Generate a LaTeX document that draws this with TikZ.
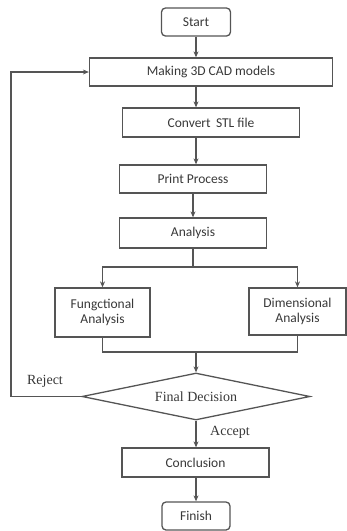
\documentclass[tikz,border=0pt]{standalone}
\usepackage{fontspec}
\setmainfont{Carlito}
\newfontfamily\serifx{Liberation Serif}
\usetikzlibrary{shapes.geometric,arrows.meta}
\definecolor{ln}{HTML}{555555}
\definecolor{tx}{HTML}{383838}
\begin{document}
\begin{tikzpicture}[x=1pt,y=-1pt,
  box/.style={draw=ln,line width=1.3pt,rectangle,inner sep=0pt,text=tx,font=\fontsize{13.5}{15}\selectfont,align=center},
  rbox/.style={box,rounded corners=4pt},
  arr/.style={draw=ln,line width=1.3pt,-{Stealth[length=6pt,width=5pt]}},
  ln/.style={draw=ln,line width=1.3pt},
  lbl/.style={text=tx,font=\serifx\fontsize{14}{16}\selectfont,inner sep=0pt}]
\useasboundingbox (0,0) rectangle (347,531);
\node[rbox,minimum width=69pt,minimum height=28pt] (start) at (196,22) {Start};
\node[box,minimum width=243pt,minimum height=28pt] (cad) at (211,72) {Making 3D CAD models};
\node[box,minimum width=177pt,minimum height=29pt] (stl) at (211,122.5) {Convert\, STL file};
\node[box,minimum width=147pt,minimum height=28pt] (print) at (193,179) {Print Process};
\node[box,minimum width=147pt,minimum height=30pt] (ana) at (193,233) {Analysis};
\node[box,minimum width=95pt,minimum height=49pt] (fun) at (102.5,312.5) {Fungctional\\Analysis};
\node[box,minimum width=97pt,minimum height=47pt] (dim) at (297.5,311.5) {Dimensional\\Analysis};
\node[diamond,aspect=4.85,draw=ln,line width=1.3pt,minimum width=228pt,minimum height=47pt,inner sep=0pt,text=tx,font=\serifx\fontsize{14}{16}\selectfont] (dec) at (196,396.5) {Final Decision};
\node[box,minimum width=147pt,minimum height=29pt] (conc) at (195.5,462.5) {Conclusion};
\node[rbox,minimum width=68pt,minimum height=28pt] (fin) at (196,516) {Finish};
\coordinate (cx) at (196,0);
\coordinate (split) at (193,267);
\coordinate (merge) at (196,352);
\coordinate (rl) at (11,396.5);
\draw[arr] (cx |- start.south) -- (cx |- cad.north);
\draw[arr] (cx |- cad.south) -- (cx |- stl.north);
\draw[arr] (cx |- stl.south) -- (cx |- print.north);
\draw[arr] (split |- print.south) -- (split |- ana.north);
\draw[ln] (split |- ana.south) -- (split);
\draw[arr] (split) -| (fun.north);
\draw[arr] (split) -| (dim.north);
\draw[ln] (fun.south) |- (merge);
\draw[ln] (dim.south) |- (merge);
\draw[arr] (merge) -- (dec.north);
\draw[arr] (dec.west) -- (rl) |- (cad.west);
\draw[arr] (dec.south) -- (dec.south |- conc.north);
\draw[arr] (cx |- conc.south) -- (cx |- fin.north);
\node[lbl] (rej) at (45,381) {Reject};
\node[lbl] (acc) at (230,432) {Accept};
\end{tikzpicture}
\end{document}
